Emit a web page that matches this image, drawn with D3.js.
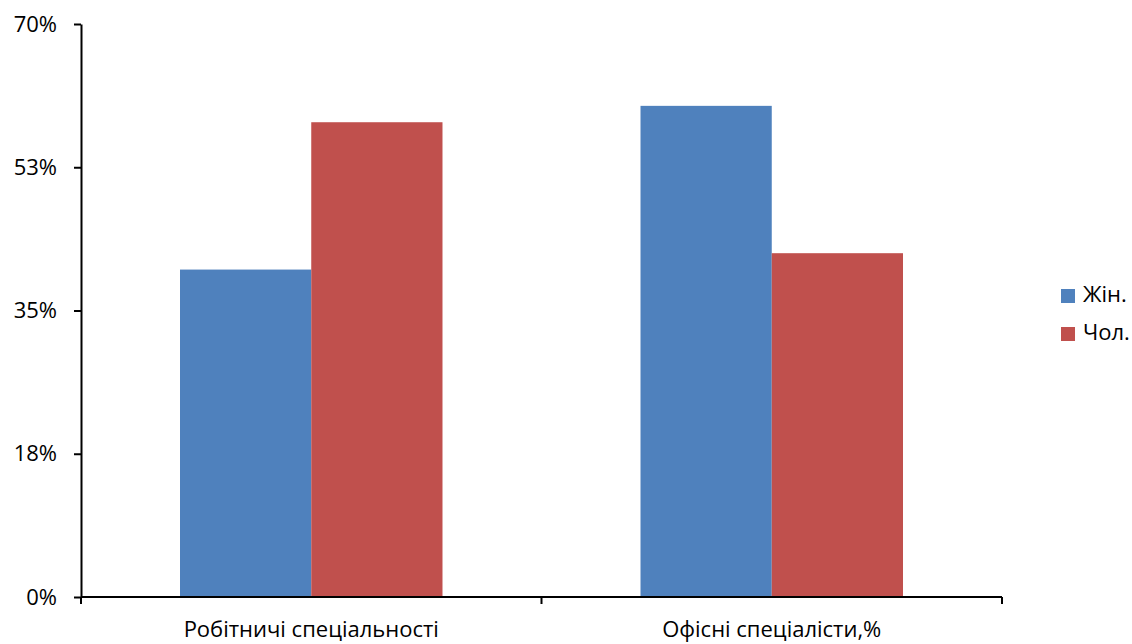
<!DOCTYPE html>
<html><head><meta charset="utf-8">
<script src="https://cdn.jsdelivr.net/npm/d3@7"></script>
<style>
html,body{margin:0;padding:0;background:#fff;}
svg{display:block;font-family:"Open Sans","Liberation Sans",sans-serif;}
</style></head>
<body>
<svg id="chart" width="1132" height="644"></svg>
<script>
const categories = ["Робітничі спеціальності", "Офісні спеціалісти,%"];
const seriesNames = ["Жін.", "Чол."];
const femaleValues = [40, 60];
const maleValues = [58, 42];
const yTickValues = [0, 17.5, 35, 52.5, 70];
const yTickLabels = ["0%", "18%", "35%", "53%", "70%"];
const colors = ["#4F81BD", "#C0504D"];

(function () {
const svg = d3.select("#chart");
const mLeft = 81, mRight = 1002, mTop = 24, mBottom = 597;
const fontSize = 22;

const x0 = d3.scaleBand().domain(categories).range([mLeft, mRight]).padding(0);
const bw = x0.bandwidth();
const x1 = d3.scaleBand().domain(seriesNames).range([bw * 0.215, bw * 0.785]).padding(0);
const y = d3.scaleLinear().domain([0, 70]).range([mBottom, mTop]);

const seriesValues = [femaleValues, maleValues];
const data = categories.map((c, i) => ({cat: c, vals: seriesNames.map((s, j) => ({s, j, v: seriesValues[j][i]}))}));

const g = svg.append("g");
const groups = g.selectAll("g.cat").data(data).enter().append("g")
  .attr("transform", d => `translate(${x0(d.cat)},0)`);
groups.selectAll("rect").data(d => d.vals).enter().append("rect")
  .attr("x", d => x1(d.s))
  .attr("width", x1.bandwidth())
  .attr("y", d => y(d.v))
  .attr("height", d => y(0) - y(d.v))
  .attr("fill", d => colors[d.j]);

// Y axis
const yAxis = d3.axisLeft(y).tickValues(yTickValues)
  .tickFormat((d, i) => yTickLabels[i]).tickSize(7).tickPadding(17).tickSizeOuter(0);
const ya = svg.append("g").attr("transform", `translate(${mLeft},0)`).call(yAxis);
ya.select(".domain").attr("stroke", "#000").attr("stroke-width", 2);
ya.selectAll(".tick line").attr("stroke", "#000").attr("stroke-width", 2);
ya.selectAll("text").attr("font-size", fontSize).attr("fill", "#000")
  .attr("font-family", "'Open Sans','Liberation Sans',sans-serif");

// X axis
const xa = svg.append("g").attr("transform", `translate(0,${mBottom})`);
xa.append("line").attr("x1", mLeft).attr("x2", mRight).attr("y1", 0).attr("y2", 0)
  .attr("stroke", "#000").attr("stroke-width", 2);
const xTickPos = categories.map(c => x0(c)).concat([x0(categories[categories.length - 1]) + bw]);
xa.selectAll("line.xt").data(xTickPos).enter().append("line").attr("class", "xt")
  .attr("x1", d => d).attr("x2", d => d).attr("y1", 0).attr("y2", 7)
  .attr("stroke", "#000").attr("stroke-width", 2);
xa.selectAll("text").data(categories).enter().append("text")
  .attr("x", d => x0(d) + bw / 2).attr("y", 40)
  .attr("text-anchor", "middle").attr("font-size", fontSize).attr("fill", "#000")
  .text(d => d);

// Legend
const lg = svg.append("g").attr("transform", "translate(1061,302)");
const items = lg.selectAll("g").data(seriesNames).enter().append("g")
  .attr("transform", (d, i) => `translate(0,${i * 38})`);
items.append("rect").attr("y", -13).attr("width", 14).attr("height", 14).attr("fill", (d, i) => colors[i]);
items.append("text").attr("x", 22).attr("y", 0).attr("font-size", fontSize).attr("fill", "#000").text(d => d);
})();
</script>
</body></html>
